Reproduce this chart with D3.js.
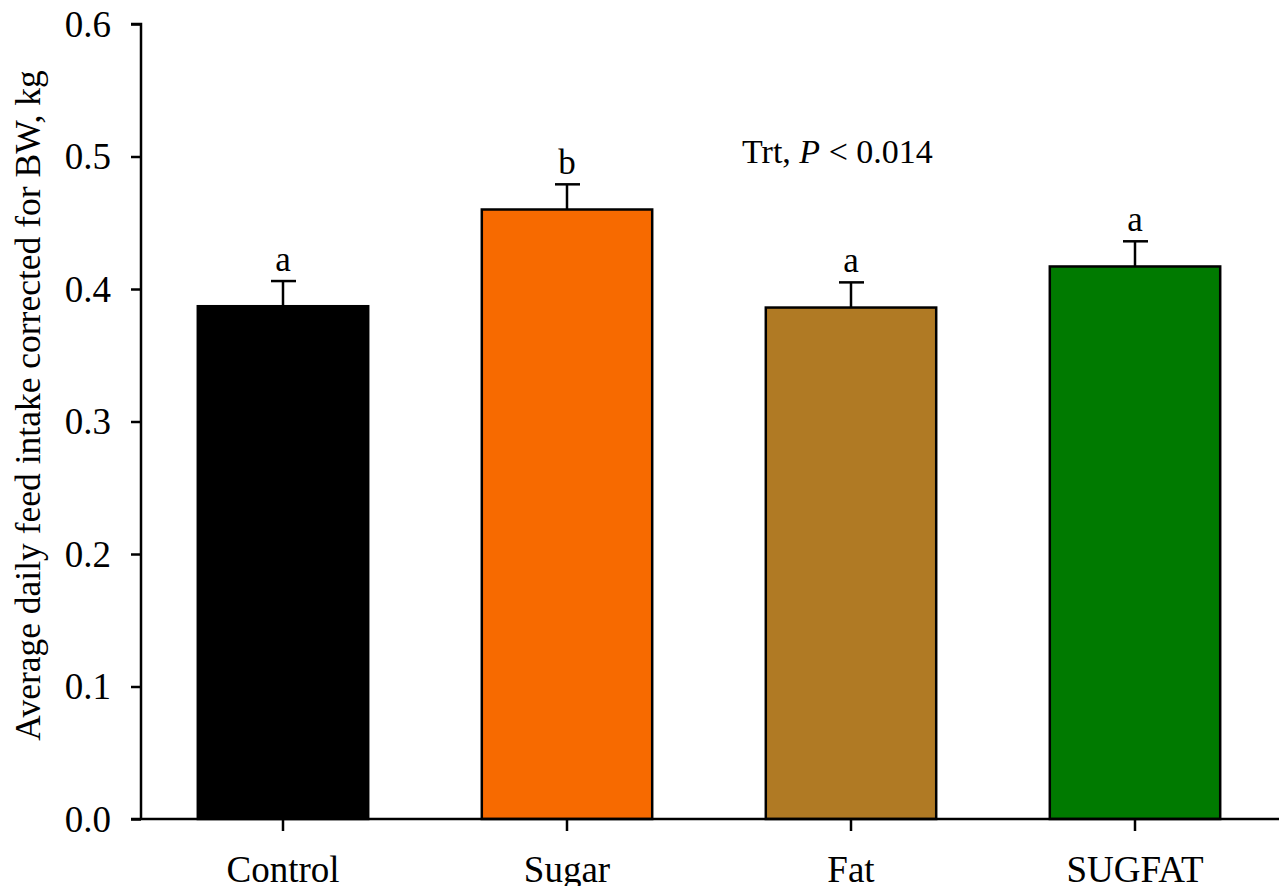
<!DOCTYPE html>
<html>
<head>
<meta charset="utf-8">
<script src="https://cdn.jsdelivr.net/npm/d3@7"></script>
<style>
html,body{margin:0;padding:0;background:#fff;overflow:hidden;}
svg{display:block;}
text{font-family:"Liberation Serif","Times New Roman",serif;fill:#000;}
</style>
</head>
<body>
<svg id="chart" width="1279" height="886"></svg>
<script>
const categories = ["Control", "Sugar", "Fat", "SUGFAT"];
const means = [0.387, 0.460, 0.386, 0.417];
const errors = [0.019, 0.019, 0.019, 0.019];
const letters = ["a", "b", "a", "a"];
const colors = ["#000000", "#F76A00", "#B07A24", "#007A00"];
const yTicks = [0.0, 0.1, 0.2, 0.3, 0.4, 0.5, 0.6];
const yLabel = "Average daily feed intake corrected for BW, kg";

const svg = d3.select("#chart");
const x0 = 141, x1 = 1277, yTop = 24, yBottom = 819;

const x = d3.scaleBand().domain(categories).range([x0, x1]).paddingInner(0.4).paddingOuter(0.2);
const y = d3.scaleLinear().domain([0, 0.6]).range([yBottom, yTop]);

// bars
svg.append("g").selectAll("rect").data(categories).join("rect")
  .attr("x", d => x(d))
  .attr("y", (d, i) => y(means[i]))
  .attr("width", x.bandwidth())
  .attr("height", (d, i) => y(0) - y(means[i]))
  .attr("fill", (d, i) => colors[i])
  .attr("stroke", "#000")
  .attr("stroke-width", 2.5);

// error bars
const eg = svg.append("g").attr("stroke", "#000").attr("stroke-width", 2.5);
categories.forEach((c, i) => {
  const cx = x(c) + x.bandwidth() / 2;
  eg.append("line").attr("x1", cx).attr("x2", cx).attr("y1", y(means[i])).attr("y2", y(means[i] + errors[i]));
  eg.append("line").attr("x1", cx - 12).attr("x2", cx + 13).attr("y1", y(means[i] + errors[i])).attr("y2", y(means[i] + errors[i]));
});

// letters
svg.append("g").selectAll("text").data(categories).join("text")
  .attr("x", d => x(d) + x.bandwidth() / 2)
  .attr("y", (d, i) => y(means[i] + errors[i]) - 10)
  .attr("text-anchor", "middle")
  .attr("font-size", 35)
  .text((d, i) => letters[i]);

// y axis
const yAxis = d3.axisLeft(y).tickValues(yTicks).tickFormat(d3.format(".1f")).tickSize(10).tickPadding(20);
const gy = svg.append("g").attr("transform", `translate(${x0},0)`).call(yAxis);
gy.select(".domain").attr("stroke-width", 2.5).attr("d", `M-10,${yTop}H0V${yBottom}`);
gy.selectAll(".tick line").attr("stroke-width", 2.5);
gy.selectAll(".tick text").attr("font-size", 37).attr("font-family", "Liberation Serif, serif").attr("dy", "0.33em");

// x axis
const xAxis = d3.axisBottom(x).tickSize(12).tickPadding(26).tickSizeOuter(0);
const gx = svg.append("g").attr("transform", `translate(0,${yBottom})`).call(xAxis);
gx.select(".domain").attr("stroke-width", 2.5).attr("d", `M${x0 - 10},0H1279`);
gx.selectAll(".tick line").attr("stroke-width", 2.5);
gx.selectAll(".tick text").attr("font-size", 37).attr("font-family", "Liberation Serif, serif").attr("dy", "0.68em");

// y label
svg.append("text")
  .attr("transform", `translate(40,${(yTop + yBottom) / 2 - 16}) rotate(-90)`)
  .attr("text-anchor", "middle")
  .attr("font-size", 35.5)
  .text(yLabel);

// annotation
const ann = svg.append("text").attr("x", 742).attr("y", 163).attr("font-size", 34);
ann.append("tspan").text("Trt, ");
ann.append("tspan").attr("font-style", "italic").text("P");
ann.append("tspan").text(" < 0.014");
</script>
</body>
</html>
